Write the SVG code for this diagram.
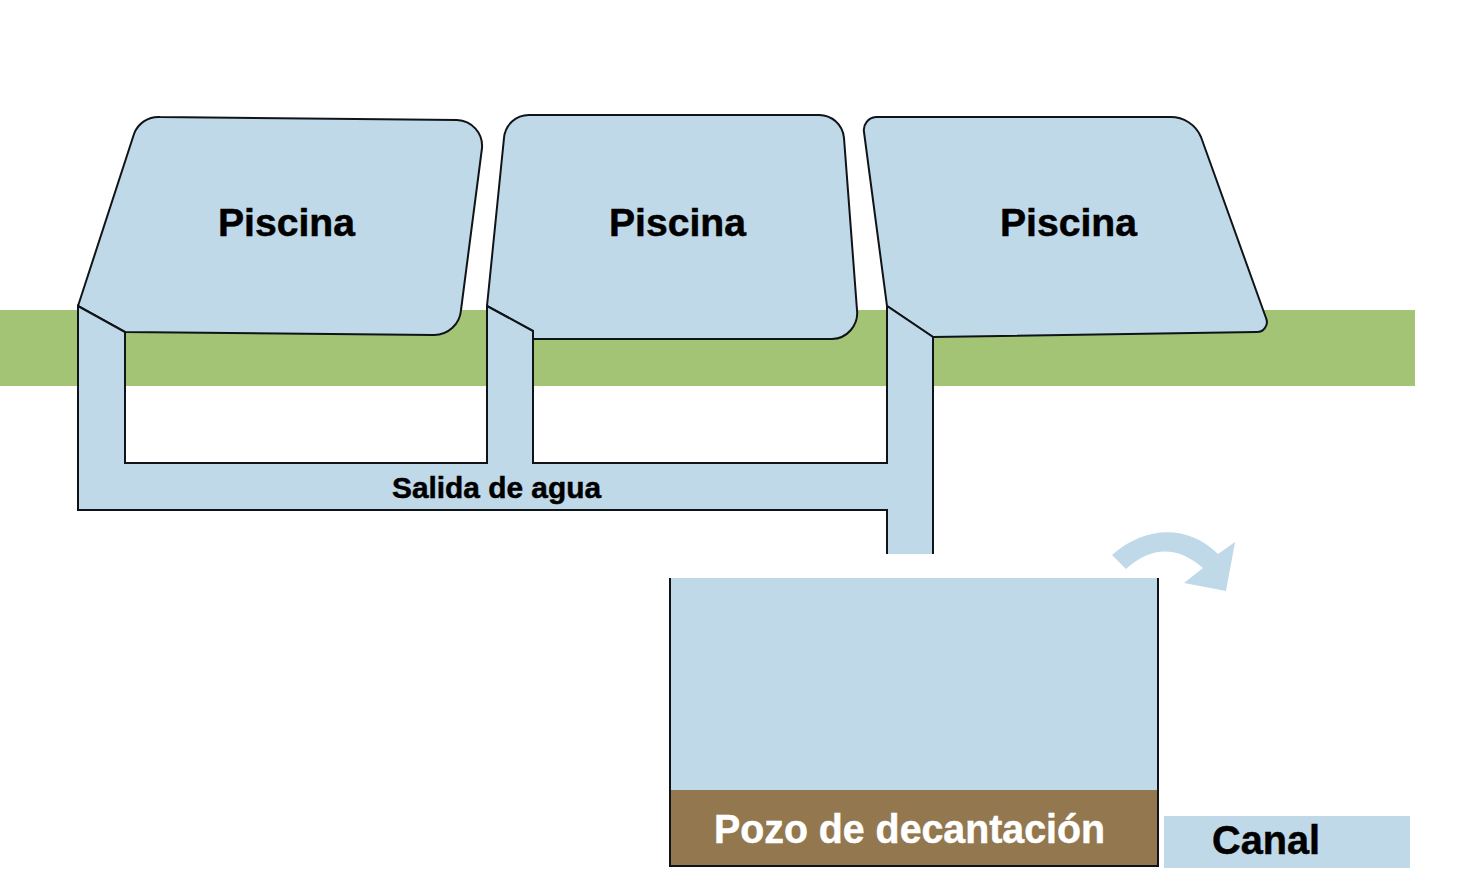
<svg xmlns="http://www.w3.org/2000/svg" width="1474" height="892" viewBox="0 0 1474 892">
<style>
.w{fill:#bfd9e8}
.o{fill:none;stroke:#101418;stroke-width:2;stroke-linejoin:miter}
.p{fill:#bfd9e8;stroke:#101418;stroke-width:2;stroke-linejoin:round}
text{font-family:"Liberation Sans",Arial,sans-serif;font-weight:700;fill:#000;stroke:#000;stroke-width:.5}
.l{font-size:38px}
</style>
<rect width="1474" height="892" fill="#fff"/>
<rect id="terreno" x="0" y="310" width="1415" height="76" fill="#a3c375"/>
<g id="piscina-1"><path class="p" d="M78,306 L134,134 A26,26 0 0 1 160,117 L457,120 A26,26 0 0 1 482,148 L461,310 A27,27 0 0 1 434,335 L125,332 Z"/><text class="l" x="218" y="236" textLength="137" lengthAdjust="spacingAndGlyphs">Piscina</text></g>
<g id="piscina-2"><path class="p" d="M487,306 L504,138 A25,25 0 0 1 529,115 L818,115 A25,25 0 0 1 844,138 L857,310 A26,26 0 0 1 832,339 L533,339 L533,331 Z"/><text class="l" x="609" y="236" textLength="137" lengthAdjust="spacingAndGlyphs">Piscina</text></g>
<g id="piscina-3"><path class="p" d="M887,306 L864,132 A13,13 0 0 1 876,117 L1170,117 A33,33 0 0 1 1201,137 L1266,318 A10,10 0 0 1 1256,332 L933,337 Z"/><text class="l" x="1000" y="236" textLength="137" lengthAdjust="spacingAndGlyphs">Piscina</text></g>
<g id="conectores">
<path class="w" d="M78,306 L125,332 V463 H487 V306 L533,331 V463 H887 V306 L933,337 V554 H887 V510 H78 Z"/>
<path class="o" d="M933,337 V554 M887,554 V510 H78 V306 L125,332 V463 H487 V306 L533,331 V463 H887 V306 L933,337"/>
<path id="flecha" class="w" d="M1112,555 C1145,526 1187,524 1218,554 L1235,542 L1226,591 L1184,583 L1203,568 C1177,546 1152,546 1126,569 Z"/>
</g>
<g id="salida"><text x="392" y="498" font-size="29" textLength="209" lengthAdjust="spacingAndGlyphs">Salida de agua</text></g>
<g id="pozo">
<rect class="w" x="670" y="578" width="488" height="212"/>
<rect x="670" y="790" width="488" height="76" fill="#93774f"/>
<path class="o" d="M670,578 V866 H1158 V578"/>
<text x="714" y="843" font-size="40" style="fill:#fff;stroke:#fff" textLength="391" lengthAdjust="spacingAndGlyphs">Pozo de decantación</text>
</g>
<g id="canal">
<rect class="w" x="1164" y="816" width="246" height="52"/>
<text x="1212" y="854" font-size="40" textLength="108" lengthAdjust="spacingAndGlyphs">Canal</text>
</g>
</svg>
